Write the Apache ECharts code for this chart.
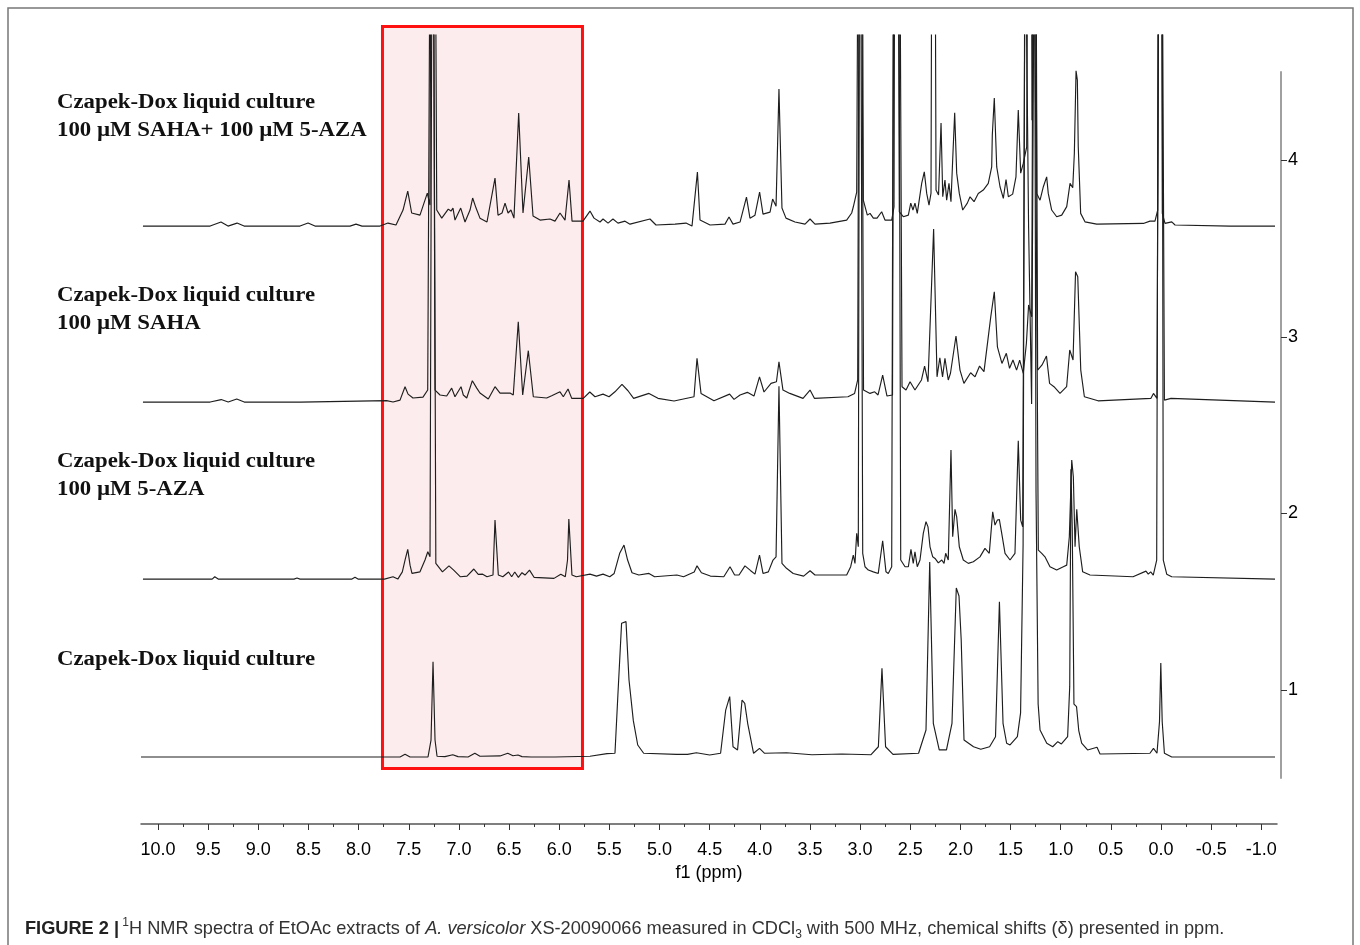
<!DOCTYPE html>
<html>
<head>
<meta charset="utf-8">
<script src="https://cdn.jsdelivr.net/npm/echarts@6/dist/echarts.min.js"></script>
<style>
html,body{margin:0;padding:0;background:#fff;}
#chart{width:1360px;height:945px;}
</style>
</head>
<body>
<div id="chart"></div>
<script>
// ---- axis ticks (ppm) ----
const majorTicks = [10.0,9.5,9.0,8.5,8.0,7.5,7.0,6.5,6.0,5.5,5.0,4.5,4.0,3.5,3.0,2.5,2.0,1.5,1.0,0.5,0.0,-0.5,-1.0];
const minorTicks = [9.75,9.25,8.75,8.25,7.75,7.25,6.75,6.25,5.75,5.25,4.75,4.25,3.75,3.25,2.75,2.25,1.75,1.25,0.75,0.25,-0.25,-0.75];
const offsetTicks = [1,2,3,4];

// ---- trace labels ----
const traceLabels = [
  ['Czapek-Dox liquid culture'],
  ['Czapek-Dox liquid culture','100 µM 5-AZA'],
  ['Czapek-Dox liquid culture','100 µM SAHA'],
  ['Czapek-Dox liquid culture','100 µM SAHA+ 100 µM 5-AZA']
];

// ---- vertical offsets (baselines) of the stacked spectra ----
const baselines = [0.619, 1.627, 2.630, 3.627];

// ---- spectra: [ppm, intensity above own baseline]; 5 = off-scale (clipped) ----
const specControl = [[10.17,0],[7.787,0],[7.587,0],[7.537,0.015],[7.487,0],[7.308,0],[7.278,0.096],[7.258,0.540],[7.238,0.096],[7.218,0.004],[7.139,0.002],[7.061,0.013],[7.009,0.002],[6.909,0],[6.841,0.021],[6.790,0.004],[6.590,0.006],[6.513,0.021],[6.461,0.007],[6.411,0.011],[6.371,0.002],[6.281,0],[6.042,0],[5.693,0.004],[5.523,0.019],[5.444,0.021],[5.414,0.361],[5.378,0.758],[5.334,0.767],[5.304,0.436],[5.261,0.206],[5.217,0.068],[5.158,0.021],[4.829,0.015],[4.720,0.015],[4.632,0.024],[4.500,0.011],[4.391,0.021],[4.340,0.266],[4.300,0.342],[4.267,0.058],[4.222,0.040],[4.177,0.323],[4.150,0.304],[4.121,0.191],[4.062,0.021],[4.003,0.049],[3.952,0.021],[3.733,0.024],[3.480,0.013],[3.183,0.017],[2.891,0.013],[2.818,0.058],[2.782,0.502],[2.746,0.058],[2.672,0.015],[2.417,0.021],[2.343,0.153],[2.306,1.105],[2.270,0.191],[2.211,0.040],[2.139,0.040],[2.084,0.191],[2.041,0.958],[2.014,0.912],[1.992,0.663],[1.964,0.096],[1.869,0.058],[1.797,0.044],[1.709,0.058],[1.650,0.115],[1.611,0.880],[1.575,0.191],[1.539,0.078],[1.505,0.068],[1.432,0.115],[1.400,0.25],[1.375,1.2],[1.356,5],[1.320,3.0],[1.290,2.0],[1.262,5],[1.246,1.5],[1.225,0.3],[1.206,0.153],[1.139,0.078],[1.080,0.058],[1.029,0.087],[0.993,0.074],[0.931,0.115],[0.910,0.4],[0.898,1.63],[0.885,1.3],[0.868,0.3],[0.842,0.285],[0.820,0.15],[0.791,0.078],[0.732,0.040],[0.638,0.055],[0.608,0.017],[0.110,0.021],[0.075,0.049],[0.040,0.021],[0.015,0.2],[0.002,0.533],[-0.012,0.2],[-0.034,0.021],[-0.107,0],[-1.137,0]];

const specAza = [[10.15,0],[9.46,0],[9.434,0.013],[9.40,0],[8.644,0],[8.614,0.006],[8.584,0],[8.066,0],[8.036,0.010],[8.006,0],[7.742,0],[7.657,0.013],[7.609,0],[7.564,0.041],[7.537,0.108],[7.510,0.168],[7.487,0.079],[7.468,0.032],[7.388,0.041],[7.338,0.108],[7.310,0.155],[7.288,0.126],[7.261,5],[7.230,0.089],[7.164,0.041],[7.099,0.075],[7.052,0.051],[6.985,0.013],[6.919,0.017],[6.851,0.057],[6.807,0.027],[6.763,0.028],[6.720,0.013],[6.660,0.023],[6.640,0.334],[6.607,0.023],[6.562,0.013],[6.505,0.040],[6.474,0.013],[6.443,0.040],[6.407,0.010],[6.371,0.036],[6.341,0.023],[6.296,0.051],[6.251,0.010],[6.052,0.004],[5.984,0.028],[5.939,0.013],[5.917,0.108],[5.904,0.340],[5.873,0.023],[5.829,0.013],[5.693,0.028],[5.628,0.017],[5.563,0.028],[5.496,0.013],[5.452,0.032],[5.397,0.146],[5.354,0.193],[5.318,0.108],[5.274,0.036],[5.206,0.023],[5.105,0.032],[5.049,0.013],[4.827,0.023],[4.760,0.013],[4.654,0.040],[4.626,0.075],[4.582,0.036],[4.493,0.017],[4.359,0.013],[4.297,0.070],[4.251,0.023],[4.207,0.023],[4.148,0.075],[4.094,0.049],[4.048,0.028],[4.003,0.136],[3.968,0.032],[3.915,0.041],[3.868,0.108],[3.838,0.126],[3.809,1.093],[3.779,0.089],[3.734,0.061],[3.667,0.032],[3.563,0.017],[3.499,0.047],[3.450,0.023],[3.134,0.023],[3.094,0.070],[3.068,0.136],[3.051,0.089],[3.034,0.259],[3.018,0.183],[3.001,5],[2.974,0.146],[2.951,0.070],[2.918,0.051],[2.868,0.041],[2.819,0.032],[2.775,0.217],[2.742,0.041],[2.719,0.032],[2.685,0.070],[2.662,5],[2.619,5],[2.595,0.108],[2.552,0.070],[2.519,0.070],[2.493,0.168],[2.470,0.089],[2.453,0.155],[2.430,0.070],[2.403,0.108],[2.370,0.259],[2.343,0.325],[2.323,0.296],[2.303,0.183],[2.276,0.126],[2.253,0.117],[2.220,0.092],[2.186,0.108],[2.163,0.089],[2.147,0.146],[2.121,0.108],[2.094,0.731],[2.077,0.240],[2.054,0.395],[2.037,0.353],[2.011,0.183],[1.971,0.108],[1.921,0.089],[1.871,0.098],[1.805,0.126],[1.755,0.174],[1.712,0.146],[1.678,0.381],[1.655,0.306],[1.632,0.334],[1.612,0.338],[1.588,0.259],[1.555,0.146],[1.505,0.108],[1.456,0.146],[1.423,0.784],[1.399,0.334],[1.379,0.296],[1.346,5],[1.276,5],[1.223,0.164],[1.189,0.146],[1.157,0.126],[1.107,0.070],[1.040,0.051],[0.974,0.070],[0.940,0.079],[0.914,0.240],[0.890,0.674],[0.874,0.580],[0.857,0.183],[0.840,0.395],[0.815,0.183],[0.781,0.041],[0.708,0.023],[0.279,0.013],[0.150,0.045],[0.127,0.028],[0.103,0.041],[0.077,0.023],[0.043,0.108],[0.020,5],[-0.007,5],[-0.023,0.108],[-0.057,0.028],[-0.107,0.013],[-1.137,0]];

const specSaha = [[10.15,0],[9.48,0],[9.37,0.014],[9.30,0],[9.215,0.017],[9.14,0],[8.58,0],[7.720,0.008],[7.657,0],[7.587,0.011],[7.537,0.087],[7.507,0.045],[7.458,0.023],[7.358,0.028],[7.311,0.068],[7.268,5],[7.238,0.068],[7.188,0.040],[7.122,0.034],[7.072,0.079],[7.039,0.030],[6.979,0.087],[6.956,0.040],[6.922,0.023],[6.866,0.121],[6.822,0.079],[6.790,0.051],[6.707,0.017],[6.640,0.087],[6.590,0.051],[6.490,0.051],[6.458,0.040],[6.408,0.455],[6.364,0.040],[6.308,0.291],[6.258,0.030],[6.125,0.023],[6.075,0.036],[5.992,0.058],[5.959,0.030],[5.912,0.074],[5.875,0.021],[5.760,0.021],[5.695,0.057],[5.643,0.030],[5.563,0.045],[5.503,0.030],[5.444,0.058],[5.374,0.100],[5.314,0.064],[5.258,0.021],[5.105,0.049],[5.015,0.021],[4.855,0.006],[4.656,0.030],[4.626,0.248],[4.586,0.049],[4.457,0.007],[4.301,0.045],[4.257,0.015],[4.197,0.040],[4.124,0.055],[4.058,0.034],[4.003,0.143],[3.958,0.057],[3.888,0.106],[3.834,0.115],[3.809,0.228],[3.769,0.068],[3.701,0.049],[3.569,0.021],[3.499,0.068],[3.456,0.021],[3.121,0.030],[3.055,0.049],[3.024,0.125],[2.998,5],[2.966,0.068],[2.901,0.049],[2.855,0.058],[2.821,0.040],[2.775,0.153],[2.732,0.034],[2.677,0.040],[2.652,5],[2.622,5],[2.582,0.087],[2.542,0.068],[2.502,0.115],[2.453,0.068],[2.388,0.125],[2.357,0.204],[2.323,0.115],[2.267,0.980],[2.233,0.143],[2.205,0.251],[2.178,0.143],[2.154,0.248],[2.121,0.125],[2.099,0.163],[2.044,0.374],[2.004,0.181],[1.965,0.106],[1.898,0.166],[1.854,0.143],[1.809,0.204],[1.765,0.172],[1.698,0.480],[1.662,0.625],[1.631,0.313],[1.586,0.219],[1.542,0.276],[1.510,0.191],[1.476,0.238],[1.440,0.181],[1.409,0.238],[1.373,0.163],[1.342,0.333],[1.320,0.550],[1.289,0.483],[1.261,5],[1.230,0.181],[1.186,0.210],[1.142,0.261],[1.111,0.106],[1.067,0.087],[1.007,0.049],[0.941,0.087],[0.910,0.295],[0.877,0.238],[0.852,0.738],[0.830,0.710],[0.800,0.181],[0.764,0.030],[0.628,0.007],[0.100,0.021],[0.075,0.049],[0.040,0.021],[0.006,5],[-0.034,0.011],[-0.100,0.021],[-1.137,0]];

const specSahaAza = [[10.15,0],[9.48,0],[9.372,0.023],[9.302,0],[9.212,0.017],[9.142,0],[8.584,0],[8.504,0.017],[8.435,0],[8.086,0],[8.026,0.011],[7.966,0],[7.786,0],[7.707,0.017],[7.627,0.006],[7.557,0.091],[7.510,0.198],[7.471,0.074],[7.388,0.062],[7.315,0.187],[7.288,0.119],[7.261,5],[7.221,0.091],[7.171,0.045],[7.106,0.096],[7.079,0.085],[7.059,0.102],[7.039,0.034],[6.982,0.102],[6.939,0.023],[6.889,0.091],[6.863,0.159],[6.829,0.102],[6.790,0.045],[6.720,0.023],[6.640,0.272],[6.610,0.062],[6.570,0.074],[6.540,0.130],[6.510,0.074],[6.481,0.091],[6.451,0.045],[6.404,0.640],[6.361,0.074],[6.304,0.391],[6.261,0.057],[6.191,0.034],[6.092,0.040],[6.042,0.028],[5.992,0.074],[5.942,0.034],[5.902,0.261],[5.872,0.028],[5.763,0.028],[5.693,0.085],[5.653,0.045],[5.593,0.023],[5.563,0.040],[5.513,0.017],[5.464,0.040],[5.414,0.017],[5.344,0.028],[5.294,0.011],[5.095,0.040],[5.035,0.006],[4.845,0.011],[4.736,0.017],[4.676,0],[4.622,0.306],[4.596,0.034],[4.496,0.006],[4.347,0.011],[4.307,0.051],[4.267,0.011],[4.197,0.023],[4.133,0.164],[4.098,0.045],[4.048,0.062],[4.002,0.193],[3.968,0.068],[3.898,0.079],[3.872,0.153],[3.838,0.113],[3.809,0.776],[3.779,0.102],[3.739,0.045],[3.649,0.023],[3.549,0.011],[3.499,0.040],[3.450,0.011],[3.300,0.017],[3.134,0.034],[3.084,0.074],[3.068,0.108],[3.034,0.193],[3.016,0.185],[2.994,5],[2.968,0.147],[2.928,0.062],[2.901,0.072],[2.868,0.045],[2.831,0.045],[2.785,0.081],[2.752,0.034],[2.685,0.034],[2.662,0.108],[2.642,5],[2.609,0.081],[2.569,0.053],[2.519,0.062],[2.495,0.130],[2.473,0.091],[2.453,0.130],[2.430,0.072],[2.386,0.242],[2.360,0.307],[2.336,0.185],[2.313,0.119],[2.293,0.187],[2.270,5],[2.243,0.204],[2.218,0.176],[2.193,0.584],[2.176,0.166],[2.154,0.261],[2.137,0.147],[2.114,0.242],[2.094,0.138],[2.077,0.374],[2.057,0.642],[2.037,0.300],[2.011,0.185],[1.977,0.091],[1.931,0.130],[1.904,0.166],[1.864,0.138],[1.822,0.185],[1.772,0.204],[1.722,0.242],[1.688,0.335],[1.682,0.515],[1.662,0.726],[1.638,0.335],[1.605,0.223],[1.572,0.157],[1.545,0.264],[1.522,0.166],[1.479,0.181],[1.446,0.279],[1.423,0.657],[1.399,0.300],[1.373,0.355],[1.339,0.449],[1.306,5],[1.286,0.600],[1.266,5],[1.239,0.185],[1.206,0.147],[1.173,0.223],[1.140,0.279],[1.124,0.185],[1.090,0.091],[1.040,0.053],[0.990,0.062],[0.940,0.110],[0.907,0.242],[0.880,0.217],[0.864,0.411],[0.847,0.880],[0.834,0.827],[0.825,0.449],[0.801,0.072],[0.758,0.024],[0.641,0.011],[0.176,0.015],[0.110,0.028],[0.060,0.028],[0.033,0.091],[0.010,5],[-0.013,0.072],[-0.040,0.015],[-0.107,0.024],[-0.140,0.006],[-0.688,0],[-1.137,0]];

const spectra = [specControl, specAza, specSaha, specSahaAza];

// ---- highlighted aromatic region (ppm) ----
const highlightRange = [7.762, 5.768];

// ---- layout ----
const X_MIN = -1.1565, X_MAX = 10.1695;
const GRID_L = 141, GRID_R = 83;

const chart = echarts.init(document.getElementById('chart'), null, {renderer:'canvas'});

const lineSeries = spectra.map((s, k) => ({
  type: 'line',
  xAxisIndex: 0, yAxisIndex: 0,
  data: s.map(p => [p[0], baselines[k] + p[1]]),
  showSymbol: false, symbol: 'none',
  lineStyle: {color: '#1e1e1e', width: 1.15},
  clip: true, silent: true, z: 3, animation: false
}));

const labelY = [[670], [472, 500], [306, 333.5], [112.5, 140.5]];
const labelGraphics = [];
traceLabels.forEach((lines, k) => {
  lines.forEach((t, j) => {
    labelGraphics.push({
      type: 'text', x: 57, y: labelY[k][j], scaleX: 1.14,
      style: {text: t, font: 'bold 20px "Liberation Serif"', fill: '#111', verticalAlign: 'bottom', align: 'left'}
    });
  });
});

const option = {
  backgroundColor: '#fff',
  animation: false,
  grid: [
    {left: GRID_L, right: GRID_R, top: 35, bottom: 167},
    {left: GRID_L, right: GRID_R, top: 72, bottom: 167},
    {left: GRID_L, right: GRID_R, top: 26.5, bottom: 176.5}
  ],
  xAxis: [
    {gridIndex: 0, type: 'value', inverse: true, min: X_MIN, max: X_MAX, position: 'bottom', offset: 46,
     axisLine: {show: true, onZero: false, lineStyle: {color: '#555', width: 1.5}},
     axisTick: {show: true, customValues: majorTicks, length: 6, lineStyle: {color: '#333', width: 1}},
     axisLabel: {show: true, customValues: majorTicks, formatter: v => Number(v).toFixed(1), fontSize: 18, color: '#000', fontFamily: 'Liberation Sans', margin: 17},
     splitLine: {show: false},
     name: 'f1 (ppm)', nameLocation: 'middle', nameGap: 28,
     nameTextStyle: {fontSize: 18, color: '#000', fontFamily: 'Liberation Sans'}},
    {gridIndex: 0, type: 'value', inverse: true, min: X_MIN, max: X_MAX, position: 'bottom', offset: 46,
     axisLine: {show: false, onZero: false},
     axisTick: {show: true, customValues: minorTicks, length: 3, lineStyle: {color: '#333', width: 1}},
     axisLabel: {show: false}, splitLine: {show: false}},
    {gridIndex: 1, type: 'value', inverse: true, min: X_MIN, max: X_MAX, show: false, axisLine: {onZero: false}},
    {gridIndex: 2, type: 'value', inverse: true, min: X_MIN, max: X_MAX, show: false, axisLine: {onZero: false}}
  ],
  yAxis: [
    {gridIndex: 0, type: 'value', min: 0.5, max: 4.7096, show: false, axisLine: {onZero: false}},
    {gridIndex: 1, type: 'value', min: 0.5, max: 4.5, position: 'right', offset: 4,
     axisLine: {show: true, onZero: false, lineStyle: {color: '#a0a0a0', width: 2}},
     axisTick: {show: true, customValues: offsetTicks, length: 6, lineStyle: {color: '#333', width: 1}},
     axisLabel: {show: true, customValues: offsetTicks, fontSize: 18, color: '#000', fontFamily: 'Liberation Sans', margin: 7},
     splitLine: {show: false}},
    {gridIndex: 2, type: 'value', min: 0, max: 1, show: false, axisLine: {onZero: false}}
  ],
  series: [
    {type: 'line', xAxisIndex: 3, yAxisIndex: 2, data: [], silent: true, z: 1,
     markArea: {silent: true,
       itemStyle: {color: '#fdeced', borderColor: '#ff1010', borderWidth: 3},
       data: [[{xAxis: highlightRange[0]}, {xAxis: highlightRange[1]}]]}}
  ].concat(lineSeries),
  graphic: [
    {type: 'rect', shape: {x: 8, y: 8, width: 1345, height: 960}, style: {fill: 'none', stroke: '#777', lineWidth: 1.5}, silent: true},
    {type: 'text', x: 25, y: 929,
     style: {
       text: '{b|FIGURE 2 |} {sup|1}{n|H NMR spectra of EtOAc extracts of }{i|A. versicolor}{n| XS-20090066 measured in CDCl}{sub|3}{n| with 500 MHz, chemical shifts (δ) presented in ppm.}',
       verticalAlign: 'middle', align: 'left',
       rich: {
         b: {fontFamily: 'Liberation Sans', fontWeight: 'bold', fontSize: 18.2, fill: '#222', lineHeight: 24},
         n: {fontFamily: 'Liberation Sans', fontSize: 18.2, fill: '#333', lineHeight: 24},
         i: {fontFamily: 'Liberation Sans', fontStyle: 'italic', fontSize: 18.2, fill: '#333', lineHeight: 24},
         sup: {fontFamily: 'Liberation Sans', fontSize: 12, fill: '#333', verticalAlign: 'top', lineHeight: 24},
         sub: {fontFamily: 'Liberation Sans', fontSize: 12, fill: '#333', verticalAlign: 'bottom', lineHeight: 18}
       }
     }}
  ].concat(labelGraphics)
};
chart.setOption(option);
</script>
</body>
</html>
